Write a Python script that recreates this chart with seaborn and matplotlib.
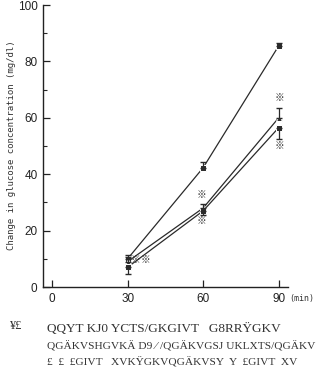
import matplotlib
matplotlib.use('Agg')
import matplotlib.pyplot as plt
import pandas as pd
import seaborn as sns

# Values
time_min = [30, 60, 90]
group_a = [10, 42.3, 85.5]      # top curve, squares
group_b = [9, 28, 60]           # middle curve, triangles
group_c = [7, 27, 56.5]         # lower curve, squares
err_a_up = [1.5, 2.2, 1.0]
err_b_up = [1.5, 1.5, 3.5]
err_c_down = [2.5, 1.5, 4.0]
star_x = [33.2, 37.2, 59.5, 59.5, 90.3, 90.3]
star_y = [9.5, 9.5, 32.5, 23.5, 67, 50]
x_ticks = [0, 30, 60, 90]
y_ticks = [0, 20, 40, 60, 80, 100]

caption_lines = [
    "QQYT KJ0 YCTS/GKGIVT   G8RRŸGKV",
    "QGÄKVSHGVKÄ D9 ⁄ /QGÄKVGSJ UKLXTS/QGÄKV",
    "£  £  £GIVT   XVKŸGKVQGÄKVSY  Y  £GIVT  XV",
]

df = pd.DataFrame({
    'time': time_min * 3,
    'value': group_a + group_b + group_c,
    'group': ['A'] * 3 + ['B'] * 3 + ['C'] * 3,
})

sns.set_style('ticks')
plt.rcParams['font.family'] = ['Liberation Sans', 'Noto Sans CJK JP', 'DejaVu Sans']

fig = plt.figure(figsize=(3.2, 3.74), dpi=100)
ax = fig.add_axes([43 / 320, 1 - 287 / 374, 245 / 320, 282 / 374])

line_col = '#2a2a2a'
sns.lineplot(data=df, x='time', y='value', hue='group', style='group',
             markers={'A': 's', 'B': '^', 'C': 's'}, dashes=False,
             palette={'A': line_col, 'B': line_col, 'C': line_col},
             markersize=4, linewidth=0.9, legend=False, ax=ax)

# one-sided error bars
ax.errorbar(time_min, group_a, yerr=[[0, 0, 0], err_a_up], fmt='none',
            ecolor=line_col, elinewidth=0.9, capsize=2)
ax.errorbar(time_min, group_b, yerr=[[0, 0, 0], err_b_up], fmt='none',
            ecolor=line_col, elinewidth=0.9, capsize=2)
ax.errorbar(time_min, group_c, yerr=[err_c_down, [0, 0, 0]], fmt='none',
            ecolor=line_col, elinewidth=0.9, capsize=2)

for sx, sy in zip(star_x, star_y):
    ax.text(sx, sy, '※', fontsize=7, ha='center', va='center', color='#333333',
            family=['Noto Sans CJK JP', 'DejaVu Sans'])

ax.set_xlim(-3.6, 93.7)
ax.set_ylim(0, 100)
ax.set_xticks(x_ticks)
ax.set_yticks(y_ticks)
ax.set_yticks(range(10, 100, 20), minor=True)
ax.tick_params(axis='both', direction='in', length=5, width=0.9, labelsize=8.5,
               colors='#222222', pad=4)
ax.tick_params(axis='y', which='minor', direction='in', length=3, width=0.8)
ax.set_xlabel('')
ax.set_ylabel('')
sns.despine(ax=ax)
for sp in ['left', 'bottom']:
    ax.spines[sp].set_linewidth(1.0)
    ax.spines[sp].set_color('#222222')

fig.text(302 / 320, 1 - 298 / 374, '(min)', fontsize=6, family='DejaVu Sans Mono',
         ha='center', va='center', color='#333333')
fig.text(12 / 320, 1 - 145 / 374, 'Change in glucose concentration (mg/dl)',
         rotation=90, fontsize=6.5, family='DejaVu Sans Mono', ha='center',
         va='center', color='#333333')

# garbled caption under the chart
fig.text(15 / 320, 1 - 326 / 374, '¥£', fontsize=9, family='Liberation Serif',
         ha='center', va='center', color='#333333')
cap_y = [329, 346, 362]
cap_size = [9.5, 8.2, 8.2]
for txt, yy, fs in zip(caption_lines, cap_y, cap_size):
    fig.text(47 / 320, 1 - yy / 374, txt, fontsize=fs, family='Liberation Serif',
             ha='left', va='center', color='#333333')

fig.savefig('out.png', dpi=100)
